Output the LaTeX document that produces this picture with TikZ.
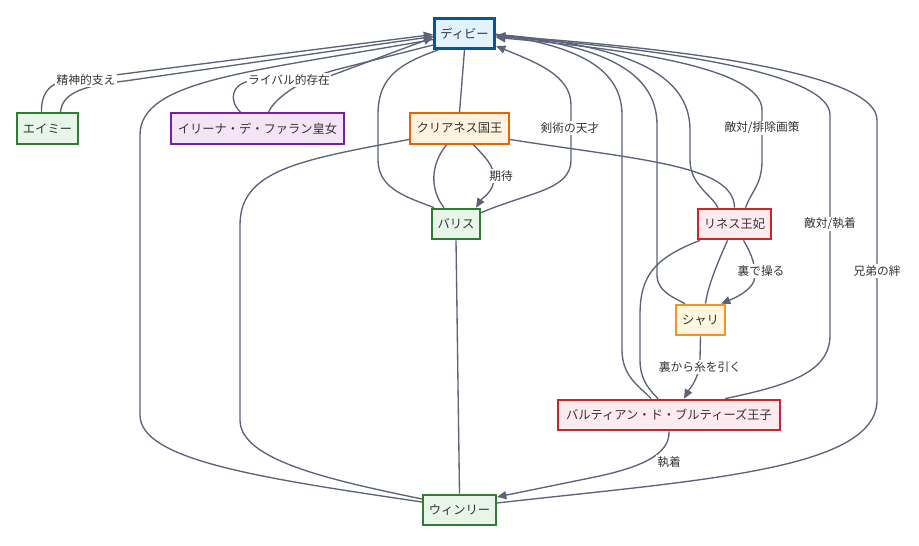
\documentclass[tikz,border=0pt]{standalone}
\usepackage{fontspec}
\setmainfont{Noto Sans CJK JP}
\usetikzlibrary{arrows.meta,calc}

\definecolor{edgegray}{RGB}{92,99,120}
\definecolor{textgray}{RGB}{51,51,51}
\definecolor{blueB}{RGB}{10,84,150}   \definecolor{blueF}{RGB}{227,242,253}
\definecolor{greenB}{RGB}{46,125,50}  \definecolor{greenF}{RGB}{232,245,233}
\definecolor{purpleB}{RGB}{123,31,162}\definecolor{purpleF}{RGB}{243,229,245}
\definecolor{orangeB}{RGB}{228,100,10}\definecolor{orangeF}{RGB}{255,243,224}
\definecolor{redB}{RGB}{198,40,40}    \definecolor{redF}{RGB}{255,235,238}
\definecolor{goldB}{RGB}{240,150,40}  \definecolor{goldF}{RGB}{255,248,225}

\begin{document}
\begin{tikzpicture}[x=0.75pt,y=0.75pt,
    person/.style={rectangle, draw, line width=1.5pt, minimum height=23pt, inner sep=0pt,
        text=textgray, font=\fontsize{9.2}{11}\selectfont},
    hero/.style={person, draw=blueB, fill=blueF, line width=2.25pt, minimum height=22.5pt},
    ally/.style={person, draw=greenB, fill=greenF},
    rival/.style={person, draw=purpleB, fill=purpleF},
    royal/.style={person, draw=orangeB, fill=orangeF},
    enemy/.style={person, draw=redB, fill=redF},
    pawn/.style={person, draw=goldB, fill=goldF},
    link/.style={draw=edgegray, line width=1pt},
    rel/.style={link, -{Triangle[length=7pt,width=6pt]}},
    lbl/.style={fill=white, inner sep=1pt, text=textgray, font=\fontsize{8.8}{10}\selectfont}
]
    % Canvas
    \fill[white] (0,0) rectangle (919,-545);

    % Characters
    \node[hero, minimum width=45pt] (debby) at (464.5,-33.5) {ディビー};
    \node[ally, minimum width=45.75pt] (amy) at (47.5,-128.5) {エイミー};
    \node[rival, minimum width=129.75pt] (irina) at (257.5,-128.5) {イリーナ・デ・ファラン皇女};
    \node[royal, minimum width=74.25pt] (king) at (459.5,-128.5) {クリアネス国王};
    \node[ally, minimum width=36pt] (baris) at (456,-224) {バリス};
    \node[enemy, minimum width=54.75pt] (lines) at (734.5,-224) {リネス王妃};
    \node[pawn, minimum width=36.75pt] (shari) at (700.5,-320) {シャリ};
    \node[enemy, minimum width=166.5pt] (pbart) at (669,-415) {バルティアン・ド・ブルティーズ王子};
    \node[ally, minimum width=54.75pt] (winry) at (459.5,-510) {ウィンリー};

    % Plain links from Debby
    \draw[link] ($(amy.north)+(13,0)$) .. controls (62,-95) and (78,-86) .. (125,-81) -- ($(debby.west)+(0,-3)$);
    \draw[link] ($(irina.north)+(11,0)$) .. controls (275,-98) and (300,-80) .. (335,-70) -- ($(debby.south west)+(0,5)$);
    \draw[link] ($(debby.west)+(0,-6)$) .. controls (250,-72) and (140,-80) .. (140,-135)
        -- (140,-415) .. controls (140,-460) and (260,-478) .. ($(winry.west)+(0,8)$);
    \draw[link] ($(debby.south west)+(5,0)$) .. controls (395,-65) and (378,-80) .. (378,-115)
        -- (378,-160) .. controls (378,-190) and (410,-198) .. ($(baris.north west)+(3,0)$);
    \draw[link] (debby.south) -- (king.north);
    \draw[link] ($(debby.east)+(0,-1)$) .. controls (570,-45) and (622,-65) .. (622,-115)
        -- (622,-350) .. controls (622,-378) and (642,-388) .. ($(pbart.north)+(-18,0)$);
    \draw[link] ($(debby.east)+(0,-1)$) .. controls (600,-45) and (657,-70) .. (657,-125)
        -- (657,-275) .. controls (657,-292) and (675,-298) .. ($(shari.north west)+(10,0)$);
    \draw[link] ($(debby.east)+(0,-1)$) .. controls (630,-45) and (690,-75) .. (690,-130)
        -- (690,-160) .. controls (690,-185) and (712,-195) .. ($(lines.north west)+(21,0)$);

    % Other plain links
    \draw[link] ($(king.south)+(-13,0)$) .. controls (430,-165) and (430,-190) .. ($(baris.north)+(-12,0)$);
    \draw[link] ($(king.west)+(0,-11)$) .. controls (300,-160) and (240,-170) .. (240,-225)
        -- (240,-420) .. controls (240,-460) and (330,-480) .. ($(winry.west)+(0,11)$);
    \draw[link] ($(king.east)+(0,-11)$) .. controls (640,-160) and (734,-165) .. (lines.north);
    \draw[link] (baris.south) -- (winry.north);
    \draw[link] ($(lines.south)+(-7,0)$) .. controls (718,-262) and (708,-285) .. ($(shari.north)+(5,0)$);
    \draw[link] ($(lines.south west)+(3,0)$) .. controls (655,-258) and (640,-275) .. (640,-315)
        -- (640,-360) .. controls (640,-382) and (652,-392) .. ($(pbart.north)+(-11,0)$);

    % Relations with arrows
    \draw[rel] ($(amy.north)+(-6,0)$) .. controls (41,-95) and (48,-86) .. (60,-82) -- ($(debby.west)+(0,-1)$);
    \draw[rel] ($(irina.north)+(-17,0)$) .. controls (228,-100) and (232,-84) .. (250,-81) -- (330,-76) -- ($(debby.west)+(0,-4)$);
    \draw[rel] ($(king.south)+(14,0)$) .. controls (486,-158) and (494,-166) .. (494,-178)
        .. controls (494,-192) and (482,-198) .. ($(baris.north)+(20,0)$);
    \draw[rel] ($(baris.north east)+(0,-5)$) .. controls (530,-192) and (571,-190) .. (571,-160)
        -- (571,-105) .. controls (571,-75) and (535,-62) .. ($(debby.south east)+(0,4)$);
    \draw[rel] ($(lines.north)+(11,0)$) .. controls (752,-190) and (762,-185) .. (762,-160)
        -- (762,-110) .. controls (762,-70) and (640,-50) .. ($(debby.east)+(0,-4)$);
    \draw[rel] ($(pbart.north)+(56,0)$) .. controls (790,-385) and (830,-372) .. (830,-335)
        -- (830,-115) .. controls (830,-75) and (680,-50) .. ($(debby.east)+(0,-3)$);
    \draw[rel] ($(winry.east)+(0,7)$) .. controls (700,-480) and (877,-470) .. (877,-400)
        -- (877,-120) .. controls (877,-75) and (700,-50) .. ($(debby.east)+(0,-2)$);
    \draw[rel] ($(lines.south)+(9,0)$) .. controls (752,-255) and (757,-268) .. (754,-281)
        .. controls (750,-291) and (735,-298) .. ($(shari.north east)+(-5,0)$);
    \draw[rel] (shari.south) -- (700,-358) .. controls (700,-378) and (690,-388) .. ($(pbart.north)+(15,0)$);
    \draw[rel] (pbart.south) .. controls (670,-455) and (640,-468) .. (590,-478) -- ($(winry.east)+(0,13)$);

    % Edge labels
    \node[lbl] (lbAmy) at (86,-80) {精神的支え};
    \node[lbl] (lbIrina) at (289,-80) {ライバル的存在};
    \node[lbl] (lbKing) at (501,-176) {期待};
    \node[lbl] (lbBaris) at (570,-128) {剣術の天才};
    \node[lbl] (lbLines) at (762,-128) {敵対/排除画策};
    \node[lbl] (lbPbart) at (830,-224) {敵対/執着};
    \node[lbl] (lbWinry) at (877,-271) {兄弟の絆};
    \node[lbl] (lbShari) at (761,-271) {裏で操る};
    \node[lbl] (lbPull) at (700,-367) {裏から糸を引く};
    \node[lbl] (lbObs) at (669,-462) {執着};
\end{tikzpicture}
\end{document}
